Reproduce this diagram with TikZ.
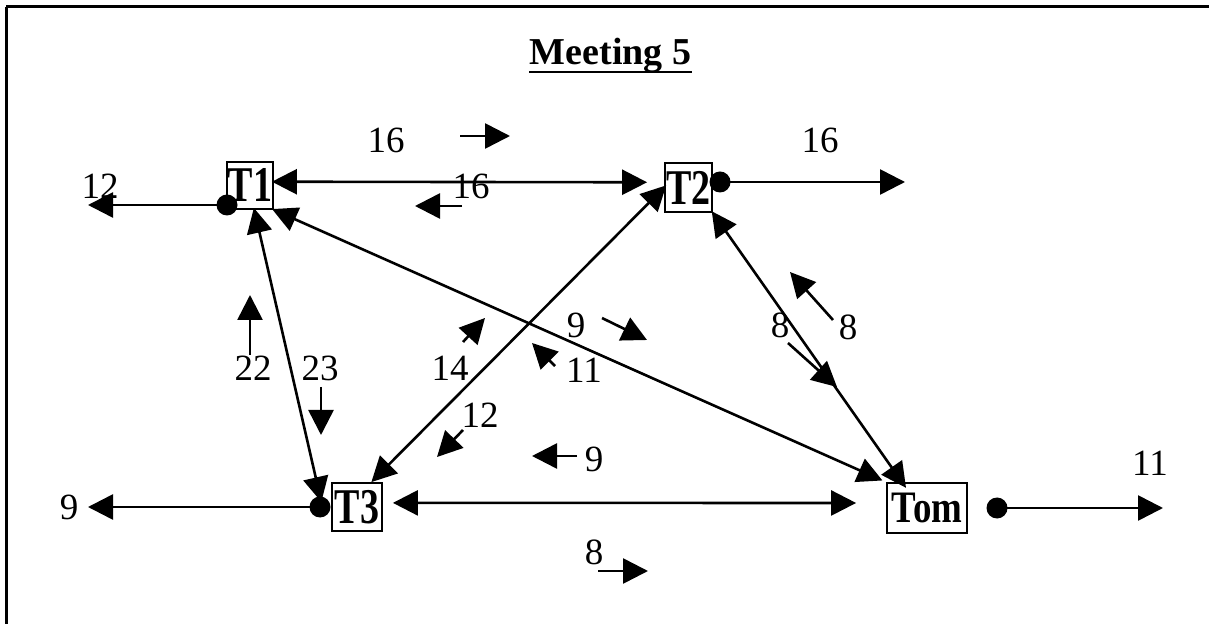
\documentclass[tikz,border=0pt]{standalone}
\usepackage{fontspec}
\setmainfont{Liberation Serif}
\usetikzlibrary{arrows.meta}
\tikzset{
  box/.style={draw, line width=0.9pt, inner sep=0pt},
  tip/.tip={Triangle[length=12.5pt,width=12.5pt]},
  arr/.style={line width=1.3pt, -tip},
  dbl/.style={line width=1.3pt, tip-tip},
  lbl/.style={inner sep=0pt, font=\fontsize{18.5}{20}\selectfont},
  dot/.style={circle, fill=black, inner sep=0pt, minimum size=10.5pt},
  frame/.style={line width=1.5pt}
}
\begin{document}
\begin{tikzpicture}[x=0.5pt,y=-0.5pt]
\useasboundingbox (0,0) rectangle (1209,624);
% frame
\draw[frame] (6,7) -- (1209,7);
\draw[frame] (6,7) -- (6,624);
% title
\node[inner sep=0pt, anchor=base, font=\bfseries\fontsize{19}{22}\selectfont] (title) at (610.5,65) {Meeting 5};
\draw[line width=1.1pt] ([yshift=-3.6pt]title.base west) -- ([yshift=-3.6pt]title.base east);
% boxes
\node[box, minimum width=23pt, minimum height=23.5pt, font=\bfseries\fontsize{25}{25}\selectfont] (T1) at (250,185.5) {\scalebox{0.76}[1]{T1}};
\node[box, minimum width=23.5pt, minimum height=24.5pt, font=\bfseries\fontsize{25}{25}\selectfont] (T2) at (688.5,187.5) {\scalebox{0.76}[1]{T2}};
\node[box, minimum width=25pt, minimum height=24pt, font=\bfseries\fontsize{25}{25}\selectfont] (T3) at (357,507) {\scalebox{0.76}[1]{T3}};
\node[box, minimum width=40pt, minimum height=25pt, font=\bfseries\fontsize{22.5}{23}\selectfont] (Tom) at (927,508) {\scalebox{0.82}[1]{Tom}};
% dots
\node[dot] (d1) at (227,205) {};
\node[dot] (d2) at (720,182) {};
\node[dot] (d3) at (320,507) {};
\node[dot] (d4) at (997,508) {};
\coordinate (e1) at (88,205);
\coordinate (e2) at (905,182);
\coordinate (e3) at (88,507);
\coordinate (e4) at (1163,508);
% outgoing arrows
\draw[arr] (d1.center) -- (e1);
\draw[arr] (d2.center) -- (e2);
\draw[arr] (d3.center) -- (e3);
\draw[arr] (d4.center) -- (e4);
% double connectors
\draw[dbl, shorten <=-1pt, shorten >=8.5pt] (T1.9) -- (T2.168);
\draw[dbl, shorten <=-1pt, shorten >=2pt] (T1.south east) -- (Tom.north west);
\draw[dbl, shorten <=-1.5pt, shorten >=0pt] (T2.west) -- (T3.60);
\draw[dbl, shorten <=-1pt, shorten >=-3pt] (T1.-80) -- (d3.north);
\draw[dbl, shorten <=-1pt, shorten >=-3.5pt] (T2.south east) -- (Tom.134);
\draw[dbl, shorten <=5pt, shorten >=15pt] (T3.9) -- (Tom.173);
% labels
\node[lbl] (l12a) at (100,186) {12};
\node[lbl] (l16a) at (386,140) {16};
\node[lbl] (l16b) at (471,186) {16};
\node[lbl] (l16c) at (820,140) {16};
\node[lbl] (l9a) at (69,507) {9};
\node[lbl] (l11a) at (1150,463) {11};
\node[lbl] (l22) at (253,368) {22};
\node[lbl] (l23) at (320,368) {23};
\node[lbl] (l14) at (450,368) {14};
\node[lbl] (l9b) at (576,325) {9};
\node[lbl] (l11b) at (584,370) {11};
\node[lbl] (l12b) at (480,415) {12};
\node[lbl] (l9c) at (594,459) {9};
\node[lbl] (l8a) at (594,552) {8};
\node[lbl] (l8b) at (780,325) {8};
\node[lbl] (l8c) at (848,327) {8};
% small flow arrows
\draw[arr] (460,136) -- (510,136);
\draw[arr] (462,206) -- (415,206);
\draw[arr] (250,355) -- (250,295);
\draw[arr] (321,387) -- (321,435);
\draw[arr] (463,342) -- (485,318);
\draw[arr] (602,318) -- (647,340);
\draw[arr] (555,366) -- (532,343);
\draw[arr] (463,430) -- (437,457);
\draw[arr] (577,456) -- (532,456);
\draw[arr] (598,571) -- (648,571);
\draw[arr] (788,343) -- (837,387);
\draw[arr] (833,320) -- (790,272);
\end{tikzpicture}
\end{document}
